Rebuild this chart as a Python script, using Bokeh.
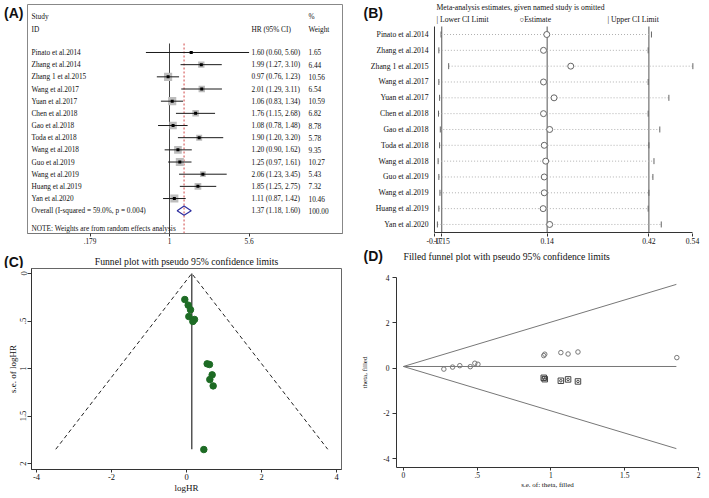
import numpy as np
from bokeh.plotting import figure
from bokeh.models import Range1d, LinearScale, FixedTicker
from bokeh.layouts import column, row
from bokeh.embed import file_html
from bokeh.resources import INLINE
from bokeh.core.properties import value

SERIF = "Liberation Serif"
SANS = "Liberation Sans"

# ---------------- data ----------------
studies = ["Pinato et al.2014", "Zhang et al.2014", "Zhang 1 et al.2015", "Wang et al.2017",
           "Yuan et al.2017", "Chen et al.2018", "Gao et al.2018", "Toda et al.2018",
           "Wang et al.2018", "Guo et al.2019", "Wang et al.2019", "Huang et al.2019",
           "Yan et al.2020"]
hr = [1.60, 1.99, 0.97, 2.01, 1.06, 1.76, 1.08, 1.90, 1.20, 1.25, 2.06, 1.85, 1.11]
hr_lo = [0.60, 1.27, 0.76, 1.29, 0.83, 1.15, 0.78, 1.20, 0.90, 0.97, 1.23, 1.25, 0.87]
hr_hi = [5.60, 3.10, 1.23, 3.11, 1.34, 2.68, 1.48, 3.20, 1.62, 1.61, 3.45, 2.75, 1.42]
weights = [1.65, 6.44, 10.56, 6.54, 10.59, 6.82, 8.78, 5.78, 9.35, 10.27, 5.43, 7.32, 10.46]
overall_hr, overall_lo, overall_hi, overall_w = 1.37, 1.18, 1.60, 100.00
overall_text = "Overall  (I-squared = 59.0%, p = 0.004)"
note_text = "NOTE: Weights are from random effects analysis"
a_ticks = [0.179, 1, 5.6]
a_tick_labels = [".179", "1", "5.6"]

b_est = [0.139, 0.130, 0.205, 0.130, 0.159, 0.130, 0.147, 0.132, 0.136, 0.132, 0.132, 0.129, 0.147]
b_lo = [-0.152, -0.158, -0.131, -0.158, -0.156, -0.159, -0.154, -0.156, -0.160, -0.158, -0.155, -0.158, -0.162]
b_hi = [0.427, 0.418, 0.541, 0.418, 0.475, 0.418, 0.450, 0.420, 0.434, 0.431, 0.420, 0.418, 0.454]
b_ref = [-0.15, 0.14, 0.42]
b_axis_min, b_axis_max = -0.17, 0.54
b_ticks = [-0.17, -0.15, 0.14, 0.42, 0.54]

c_theta = [-0.045, 0.045, 0.107, 0.062, 0.213, 0.169, 0.551, 0.613, 0.684, 0.622, 0.711, 0.462]
c_se = [0.274, 0.333, 0.382, 0.453, 0.484, 0.505, 0.951, 0.958, 1.067, 1.116, 1.183, 1.853]
c_center = 0.14
c_se_max = 1.85
c_xticks = [-4, -2, 0, 2, 4]
c_yticks = [0, 0.5, 1, 1.5, 2]
c_ytick_labels = ["0", ".5", "1", "1.5", "2"]

d_center = 0.07
d_se_max = 1.85
d_fill_se = [0.951, 0.958, 1.067, 1.116, 1.183]
d_fill_theta = [-0.43, -0.49, -0.56, -0.50, -0.59]
d_xticks = [0, 0.5, 1, 1.5, 2]
d_xtick_labels = ["0", ".5", "1", "1.5", "2"]
d_yticks = [-4, -2, 0, 2, 4]

rows = list(range(len(studies)))


def fig(**kw):
    p = figure(output_backend="svg", toolbar_location=None, tools="", **kw)
    p.grid.visible = False
    p.border_fill_color = "white"
    if "frame_align" in p.properties():
        p.frame_align = False
    return p


def put_text(p, xs, ys, texts, size, font=SERIF, style="normal", align="left", **kw):
    p.text(x=xs, y=ys, text=texts, text_font=value(font), text_font_size=value(size),
           text_font_style=value(style), text_align=value(align), text_baseline="middle",
           text_color="#111111", **kw)


def strip(w, h, items):
    """A text-only band: items are (x_px, y_px, text, size, font, style, align)."""
    s = fig(width=w, height=h, x_range=Range1d(0, w), y_range=Range1d(h, 0), min_border=0)
    s.axis.visible = False
    s.outline_line_color = "white"
    s.outline_line_alpha = 0
    for (x, y, t, size, font, style, align) in items:
        put_text(s, [x], [y], [t], size, font, style, align)
    return s


def style_axis(ax, size="8px"):
    ax.axis_line_color = "#333333"
    ax.major_tick_line_color = "#333333"
    ax.major_tick_out = 4
    ax.major_tick_in = 0
    ax.minor_tick_line_color = None
    ax.major_label_text_font = SERIF
    ax.major_label_text_font_size = size
    ax.major_label_text_color = "#111111"
    ax.axis_label_text_font = SERIF
    ax.axis_label_text_font_style = "normal"
    ax.axis_label_text_color = "#111111"


# ---------------- Panel A: forest plot ----------------
FW_A = 315
stripA = strip(27, 248, [(3.5, 12.5, "(A)", "14px", SANS, "bold", "left")])
pA = fig(width=331, height=248, x_axis_type="log", x_range=Range1d(0.04623, 42.3),
         y_range=Range1d(14.873, -3.944), min_border_left=0, min_border_right=16,
         min_border_top=4, min_border_bottom=15)
pA.extra_x_ranges = {"col": Range1d(0, FW_A)}
pA.extra_x_scales = {"col": LinearScale()}
pA.yaxis.visible = False
pA.outline_line_color = "#888888"

pA.segment(x0=[1], y0=[-0.74], x1=[1], y1=[14.873], line_color="#444444", line_width=1)
pA.segment(x0=[overall_hr], y0=[-0.74], x1=[overall_hr], y1=[14.873], line_color="#d04545",
           line_width=1, line_dash="2 2")
pA.scatter(hr, rows, marker="square", size=[2.5 * np.sqrt(w) for w in weights],
           fill_color="#bdbdbd", line_color=None)
pA.segment(x0=hr_lo, y0=rows, x1=hr_hi, y1=rows, line_color="#1a1a1a", line_width=1)
pA.scatter(hr, rows, marker="square", size=3, fill_color="black", line_color=None)
pA.patch(x=[overall_lo, overall_hr, overall_hi, overall_hr],
         y=[13, 13 - 0.38, 13, 13 + 0.38], fill_alpha=0, line_color="#2f2f9f", line_width=1.2)

n = len(rows)
put_text(pA, [4] * n, rows, studies, "7.3px", x_range_name="col")
put_text(pA, [224] * n, rows,
         [f"{h:.2f} ({l:.2f}, {u:.2f})" for h, l, u in zip(hr, hr_lo, hr_hi)], "7.3px",
         x_range_name="col")
put_text(pA, [281] * n, rows, [f"{w:.2f}" for w in weights], "7.3px", x_range_name="col")
put_text(pA, [4, 4, 224, 281, 281, 4, 224, 281, 4],
         [-2.96, -1.89, -1.89, -2.96, -1.89, 13, 13, 13, 14.5],
         ["Study", "ID", "HR (95% CI)", "%", "Weight", overall_text,
          f"{overall_hr:.2f} ({overall_lo:.2f}, {overall_hi:.2f})", f"{overall_w:.2f}", note_text],
         "7.3px", x_range_name="col")

style_axis(pA.xaxis[0], "7.3px")
pA.xaxis.ticker = FixedTicker(ticks=a_ticks)
pA.xaxis.major_label_overrides = dict(zip(a_ticks, a_tick_labels))
pA.xaxis.axis_line_color = "#777777"
pA.xaxis.major_tick_out = 3
pA.xaxis.major_label_standoff = 1

# ---------------- Panel B: influence analysis ----------------
FW_B, FH_B = 340, 233
pB = fig(width=351, height=248, x_range=Range1d(-0.3791, 0.5565), y_range=Range1d(12.571, -2.148),
         min_border_left=0, min_border_right=11, min_border_top=0, min_border_bottom=15)
pB.extra_x_ranges = {"px": Range1d(0, FW_B)}
pB.extra_x_scales = {"px": LinearScale()}
pB.extra_y_ranges = {"py": Range1d(FH_B, 0)}
pB.extra_y_scales = {"py": LinearScale()}
pB.outline_line_color = "white"
pB.outline_line_alpha = 0
pB.yaxis.visible = False
row_top, row_bot = -0.505, 12.508
for v in b_ref:
    pB.segment(x0=[v], y0=[row_top], x1=[v], y1=[row_bot], line_color="#555555", line_width=1)
pB.segment(x0=[b_axis_min], y0=[row_top], x1=[b_axis_min], y1=[row_bot], line_color="#333333", line_width=1)
pB.segment(x0=[b_axis_min], y0=[row_bot], x1=[b_axis_max], y1=[row_bot], line_color="#333333", line_width=1)
pB.segment(x0=b_lo, y0=rows, x1=b_hi, y1=rows, line_color="#b0b0b0", line_dash="1 2", line_width=1)
pB.scatter(b_lo, rows, marker="dash", angle=np.pi / 2, size=6, line_color="#666666")
pB.scatter(b_hi, rows, marker="dash", angle=np.pi / 2, size=6, line_color="#666666")
pB.scatter(b_est, rows, marker="circle", size=6, fill_color="white", line_color="#666666")

put_text(pB, [70] * n, rows, studies, "7.7px", align="right", x_range_name="px")
put_text(pB, [5], [12], ["(B)"], "14px", font=SANS, style="bold", x_range_name="px", y_range_name="py")
put_text(pB, [78, 78, 161, 249], [7, 19, 19, 19],
         ["Meta-analysis estimates, given named study is omitted", "| Lower CI Limit",
          "\u25cbEstimate", "| Upper CI Limit"], "7.7px", x_range_name="px", y_range_name="py")

style_axis(pB.xaxis[0], "7.7px")
pB.xaxis.ticker = FixedTicker(ticks=b_ticks)
pB.xaxis.major_label_overrides = {t: f"{t:.2f}" for t in b_ticks}
pB.xaxis.axis_line_color = None
pB.xaxis.major_tick_out = 3
pB.xaxis.major_label_standoff = 1

# ---------------- title strips for C and D ----------------
stripC = strip(358, 20, [
    (3.5, 13, "(C)", "14px", SANS, "bold", "left"),
    (186, 13, "Funnel plot with pseudo 95% confidence limits", "9.7px", SERIF, "normal", "center"),
])
stripD = strip(351, 20, [
    (5, 7.5, "(D)", "14px", SANS, "bold", "left"),
    (45, 7.5, "Filled funnel plot with pseudo 95% confidence limits", "9.7px", SERIF, "normal", "left"),
])

# ---------------- Panel C: funnel plot ----------------
pC = fig(width=358, height=230, x_range=Range1d(-4.133, 4.133), y_range=Range1d(2.063, -0.0526),
         min_border_left=31, min_border_right=17, min_border_top=0, min_border_bottom=29)
pC.outline_line_color = "#666666"
lo_end = c_center - 1.96 * c_se_max
hi_end = c_center + 1.96 * c_se_max
pC.line([lo_end, c_center, hi_end], [c_se_max, 0, c_se_max], line_color="#222222",
        line_dash="4 3", line_width=1)
pC.segment(x0=[c_center], y0=[0], x1=[c_center], y1=[c_se_max], line_color="#555555", line_width=1.5)
pC.scatter(c_theta, c_se, marker="circle", size=6.5, fill_color="#1d6b24", line_color="#1d6b24")

style_axis(pC.xaxis[0], "8.5px")
pC.xaxis.ticker = FixedTicker(ticks=c_xticks)
pC.xaxis.major_label_overrides = {t: str(t) for t in c_xticks}
pC.xaxis.axis_label = "logHR"
pC.xaxis.axis_label_text_font_size = "9px"
pC.xaxis.major_tick_out = 3
pC.xaxis.major_label_standoff = 1
pC.xaxis.axis_label_standoff = 0
style_axis(pC.yaxis[0], "8.5px")
pC.yaxis.ticker = FixedTicker(ticks=c_yticks)
pC.yaxis.major_label_overrides = dict(zip(c_yticks, c_ytick_labels))
pC.yaxis.major_label_orientation = "vertical"
pC.yaxis.axis_label = "s.e. of logHR"
pC.yaxis.axis_label_text_font_size = "9px"
pC.yaxis.major_tick_out = 4
pC.yaxis.major_label_standoff = 1
pC.yaxis.axis_label_standoff = 0

# ---------------- Panel D: filled funnel plot ----------------
pD = fig(width=351, height=230, x_range=Range1d(-0.047, 2.0), y_range=Range1d(-4.39, 4.0),
         min_border_left=36, min_border_right=11, min_border_top=9, min_border_bottom=31)
pD.outline_line_color = "white"
pD.outline_line_alpha = 0
pD.line([0, d_se_max], [d_center, d_center + 1.96 * d_se_max], line_color="#777777", line_width=1)
pD.line([0, d_se_max], [d_center, d_center - 1.96 * d_se_max], line_color="#777777", line_width=1)
pD.line([0, d_se_max], [d_center, d_center], line_color="#777777", line_width=1)
pD.scatter(c_se, c_theta, marker="circle", size=4.5, fill_color=None, line_color="#777777")
pD.scatter(d_fill_se, d_fill_theta, marker="square", size=5.5, fill_color=None, line_color="#444444")
pD.scatter(d_fill_se, d_fill_theta, marker="circle", size=2.5, fill_color=None, line_color="#444444")

style_axis(pD.xaxis[0], "7.5px")
pD.xaxis.ticker = FixedTicker(ticks=d_xticks)
pD.xaxis.major_label_overrides = dict(zip(d_xticks, d_xtick_labels))
pD.xaxis.axis_label = "s.e. of: theta, filled"
pD.xaxis.axis_label_text_font_size = "7px"
pD.xaxis.major_tick_out = 3
pD.xaxis.major_label_standoff = 1
pD.xaxis.axis_label_standoff = 0
style_axis(pD.yaxis[0], "7.5px")
pD.yaxis.ticker = FixedTicker(ticks=d_yticks)
pD.yaxis.major_label_overrides = {t: str(t) for t in d_yticks}
pD.yaxis.axis_label = "theta, filled"
pD.yaxis.axis_label_text_font_size = "7px"
pD.yaxis.major_label_standoff = 3
pD.yaxis.axis_label_standoff = 11

layout = column(
    row(stripA, pA, pB),
    row(stripC, stripD),
    row(pC, pD),
)
open("out.html", "w").write(file_html(layout, INLINE))
